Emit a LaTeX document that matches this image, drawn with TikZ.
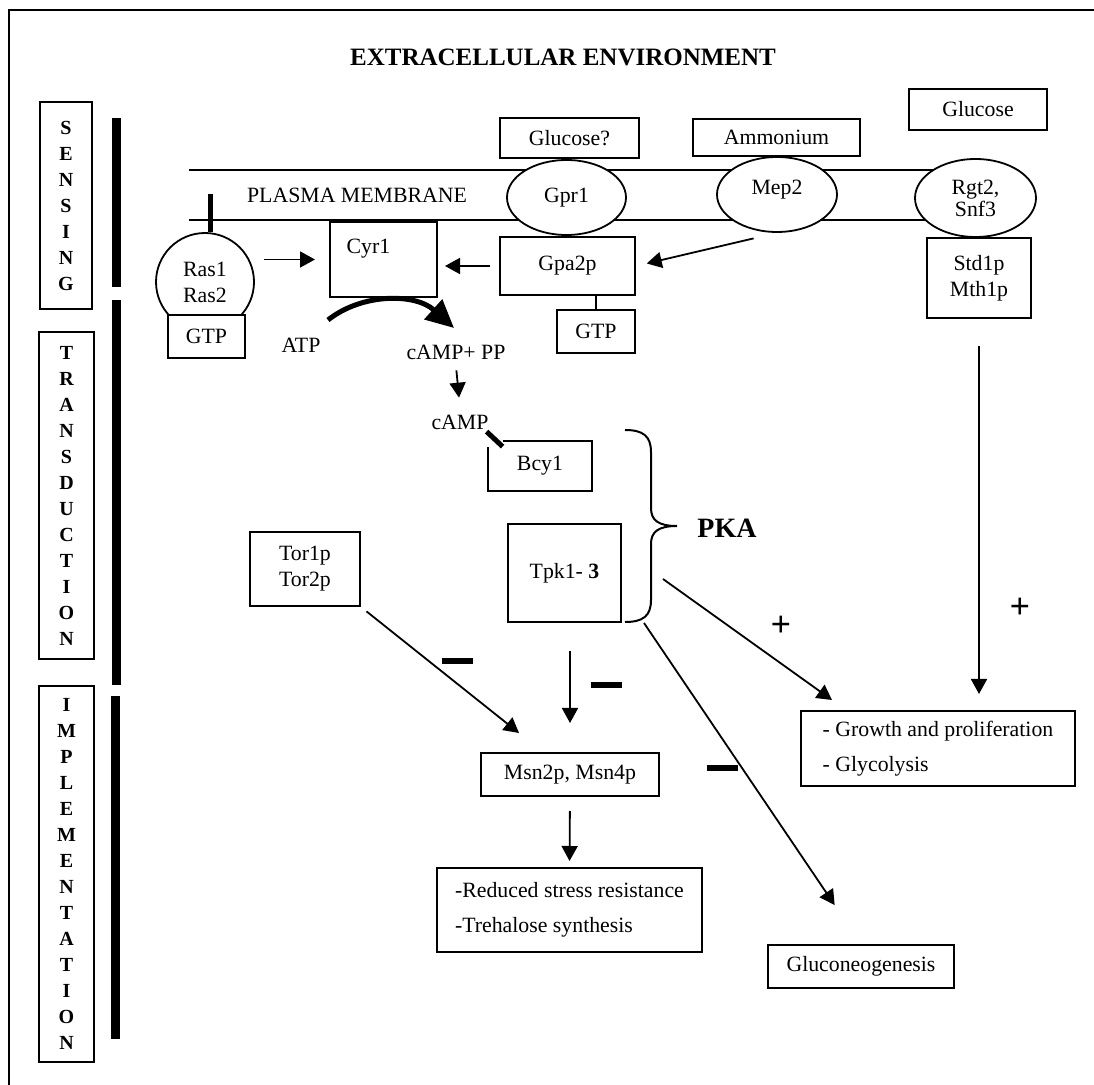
\documentclass[tikz,border=0pt]{standalone}
\usepackage{fontspec}
\setmainfont{Liberation Serif}
\usetikzlibrary{calc,positioning,arrows.meta,shapes.geometric,backgrounds}

\begin{document}
\begin{tikzpicture}[x=0.5pt, y=-0.5pt,
    every node/.style={font=\fontsize{10.9}{13}\selectfont},
    box/.style={rectangle, draw, line width=1pt, fill=white, align=center, inner sep=1pt},
    sidebox/.style={rectangle, draw, line width=1pt, align=center, inner sep=1pt, font=\bfseries\fontsize{10}{13}\selectfont},
    memb/.style={ellipse, draw, line width=0.9pt, fill=white, align=center, inner sep=1pt},
    arr/.style={-{Triangle[length=7.5pt,width=8pt]}, line width=0.9pt},
    sign/.style={inner sep=0pt, font=\bfseries\fontsize{18}{18}\selectfont}]
    \useasboundingbox (0,0) rectangle (1094,1085);
    \draw[line width=1pt] (9,1085) -- (9,10) -- (1094,10);

    \node[font=\bfseries\fontsize{12.5}{15}\selectfont] (extra) at (563,57) {EXTRACELLULAR ENVIRONMENT};

    \node[sidebox, minimum width=26pt, minimum height=103.5pt] (sens) at (66,205.5) {S\\E\\N\\S\\I\\N\\G};
    \node[sidebox, minimum width=27.5pt, minimum height=163.5pt] (trans) at (66.5,495.5) {T\\R\\A\\N\\S\\D\\U\\C\\T\\I\\O\\N};
    \node[sidebox, minimum width=27.5pt, minimum height=188pt] (impl) at (66.5,874) {I\\M\\P\\L\\E\\M\\E\\N\\T\\A\\T\\I\\O\\N};
    \fill (112,118) rectangle (121,287);
    \fill (112,300) rectangle (121,685);
    \fill (111,696) rectangle (120,1039);

    \node (plasma) at (357,195) {PLASMA MEMBRANE};
    \coordinate (memtop) at (189,170);
    \coordinate (membot) at (189,220);

    \node[box, minimum width=69.5pt, minimum height=20pt] (gluq) at (569.5,138) {Glucose?};
    \node[box, minimum width=83.5pt, minimum height=18.5pt] (ammo) at (776.5,137.5) {Ammonium};
    \node[box, minimum width=69pt, minimum height=20.5pt] (glu) at (978,109.5) {Glucose};

    \node[memb, minimum width=59.5pt, minimum height=37.5pt] (gpr) at (566.5,197.5) {Gpr1};
    \node[memb, minimum width=60pt, minimum height=37.5pt] (mep) at (777,194.5) {Mep2\\[-6pt]\mbox{}};
    \node[memb, minimum width=60.5pt, minimum height=39pt] (rgt) at (975.5,198) {Rgt2,\\[-2pt]Snf3};
    \node[box, minimum width=52pt, minimum height=40pt] (std) at (979,278) {Std1p\\Mth1p};

    \node[circle, draw, line width=0.9pt, minimum size=49pt, inner sep=0pt, align=center] (ras) at (205,282) {Ras1\\Ras2};
    \node[box, minimum width=38.5pt, minimum height=21.5pt] (gtpa) at (206.5,336.5) {GTP};
    \coordinate (rastop) at (210,194);
    \node[box, minimum width=53.5pt, minimum height=37.5pt] (cyr) at (383.5,259.5) {Cyr1\hspace*{15pt}\\\mbox{}};
    \node[box, minimum width=67.5pt, minimum height=29pt] (gpa) at (567.5,266) {Gpa2p};
    \node[box, minimum width=39pt, minimum height=21.5pt] (gtpb) at (596,331.5) {GTP};

    \node (atp) at (301,345) {ATP};
    \coordinate (atpgo) at (328,320);
    \coordinate (atphit) at (454,328);
    \node (camppp) at (456,352) {cAMP+ PP};
    \node (camp) at (460,422) {cAMP};
    \node[minimum width=52pt, minimum height=25pt] (bcy) at (540,466) {Bcy1};
    \node[box, minimum width=56.5pt, minimum height=49pt] (tpk) at (564.5,573) {Tpk1- \textbf{3}};
    \node[box, minimum width=55pt, minimum height=37pt] (tor) at (305,569) {Tor1p\\Tor2p};
    \node[font=\bfseries\fontsize{14}{16}\selectfont] (pka) at (727,528) {PKA};

    \node[box, minimum width=89pt, minimum height=21.5pt] (msn) at (570,774.5) {Msn2p, Msn4p};
    \node[box, minimum width=132.5pt, minimum height=42pt, align=left] (stress) at (569.5,910) {-Reduced stress resistance\\[4.5pt]-Trehalose synthesis};
    \node[box, minimum width=137pt, minimum height=37.5pt, align=left] (grow) at (938,748.5) {- Growth and proliferation\\[4.5pt]- Glycolysis};
    \node[box, minimum width=93pt, minimum height=21.5pt] (gluneo) at (861,966.5) {Gluconeogenesis};

    \node[inner sep=0pt] (mtor) at (457.5,661) {\rule{15.5pt}{3pt}};
    \node[inner sep=0pt] (mtpk) at (606,685) {\rule{15.5pt}{3pt}};
    \node[inner sep=0pt] (mglu) at (722,768) {\rule{15.5pt}{3pt}};
    \node[sign] (pgrow) at (781,626) {+};
    \node[sign] (pstd) at (1020,608) {+};

    \coordinate (torhit) at (519,733);
    \coordinate (pkaup) at (663,579);
    \coordinate (growhit) at (832,700);
    \coordinate (pkadown) at (644,623);

    \begin{pgfonlayer}{background}
        \draw[line width=1pt] (memtop) -- (memtop -| rgt.center);
        \draw[line width=1pt] (membot) -- (membot -| rgt.center);
    \end{pgfonlayer}

    \draw[line width=2.5pt] (rastop) -- (rastop |- ras.north);
    \draw[arr, shorten <=4.5pt, shorten >=7pt] (ras.east |- cyr.center) -- (cyr.west);
    \draw[arr, shorten <=4.5pt, shorten >=3.5pt] (gpa.west) -- (gpa.west -| cyr.east);
    \draw[arr, shorten <=12pt, shorten >=5.5pt] (mep.south) -- (gpa.east);
    \draw[line width=0.9pt] (gpa.south -| gtpb.north) -- (gtpb.north);
    \draw[line width=2.5pt, -{Triangle[length=14pt,width=13pt]}] (atpgo) .. controls (362,293) and (415,293) .. (atphit);
    \draw[arr, shorten <=2pt, shorten >=5pt] (camppp.south) -- (camp.north);
    \draw[line width=2.5pt] ($(bcy.north west)+(-1,-9)$) -- ($(bcy.north west)+(15,6)$);
    \draw[line width=1pt] ($(bcy.north west)+(15,0)$) -- (bcy.north east) -- (bcy.south east) -- (bcy.south west) -- ($(bcy.north west)+(0,6)$);
    \draw[line width=1pt] (625,430) .. controls (643,430) and (651,436) .. (651,452) -- (651,508) .. controls (651,520) and (658,526) .. (677,526) .. controls (658,526) and (651,532) .. (651,544) -- (651,600) .. controls (651,616) and (643,622) .. (625,622);

    \draw[arr, shorten <=3.5pt] (tor.south east) -- (torhit);
    \draw[arr, shorten <=14pt, shorten >=14.5pt] (msn.north |- tpk.south) -- (msn.north);
    \draw[arr, shorten <=7pt, shorten >=3pt] (msn.south) -- (stress.north);
    \draw[arr, shorten <=13.5pt, shorten >=8pt] (std.south) -- (std.south |- grow.north);
    \draw[arr] (pkaup) -- (growhit);
    \draw[arr, shorten >=23.5pt] (pkadown) -- (gluneo.north);

\end{tikzpicture}
\end{document}
